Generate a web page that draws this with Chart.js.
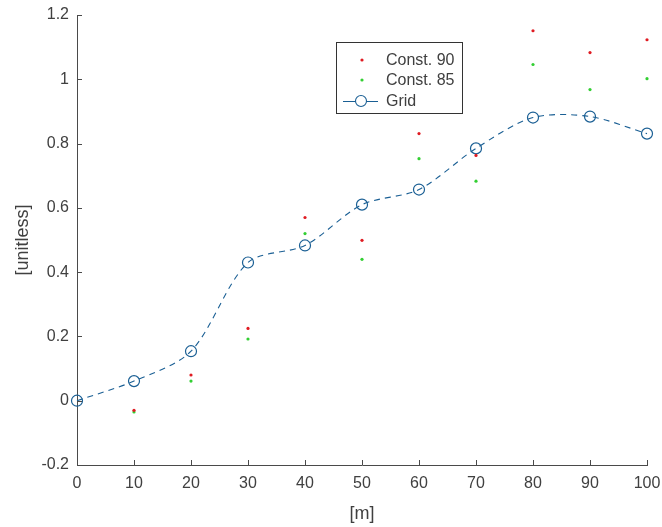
<!DOCTYPE html>
<html>
<head>
<meta charset="utf-8">
<script src="https://cdn.jsdelivr.net/npm/chart.js@4/dist/chart.umd.min.js"></script>
<style>
html,body{margin:0;padding:0;background:#fff;}
#wrap{width:662px;height:527px;position:relative;}
</style>
</head>
<body>
<div id="wrap"><canvas id="c" width="662" height="527"></canvas></div>
<script>
const xValues = [0, 10, 20, 30, 40, 50, 60, 70, 80, 90, 100];
const const90 = [null, -0.03, 0.08, 0.225, 0.57, 0.499, 0.831, 0.763, 1.151, 1.083, 1.123];
const const85 = [null, -0.035, 0.061, 0.192, 0.52, 0.44, 0.753, 0.683, 1.046, 0.968, 1.002];
const gridVals = [0, 0.061, 0.154, 0.43, 0.483, 0.61, 0.657, 0.785, 0.881, 0.884, 0.831];
const seriesLabels = ['Const. 90', 'Const. 85', 'Grid'];
const xTitle = '[m]';
const yTitle = '[unitless]';

const FONT = "'Liberation Sans', Arial, sans-serif";
const TXT = '#404040';
const AX = '#4a4a4a';
const BLUE = '#1a5f94';

const pts = arr => xValues.map((x, i) => ({x: x, y: arr[i]})).filter(p => p.y !== null);

const inwardTicks = {
  id: 'inwardTicks',
  afterDatasetsDraw(chart) {
    const ctx = chart.ctx, ca = chart.chartArea;
    const xs = chart.scales.x, ys = chart.scales.y;
    ctx.save();
    ctx.strokeStyle = AX; ctx.lineWidth = 1;
    ctx.beginPath();
    xs.ticks.forEach(t => {
      const p = Math.round(xs.getPixelForValue(t.value)) + 0.5;
      ctx.moveTo(p, ca.bottom); ctx.lineTo(p, ca.bottom - 5);
    });
    ys.ticks.forEach(t => {
      const p = Math.round(ys.getPixelForValue(t.value)) + 0.5;
      ctx.moveTo(ca.left, p); ctx.lineTo(ca.left + 5, p);
    });
    ctx.stroke();
    ctx.restore();
  }
};

const customLegend = {
  id: 'customLegend',
  afterDraw(chart) {
    const ctx = chart.ctx;
    const bx = 336.5, by = 42.5, bw = 126, bh = 71;
    ctx.save();
    ctx.fillStyle = '#fff';
    ctx.fillRect(bx, by, bw, bh);
    ctx.strokeStyle = '#333'; ctx.lineWidth = 1;
    ctx.strokeRect(bx, by, bw, bh);
    const rows = [60, 80, 101];
    const ds = chart.data.datasets;
    ctx.font = '16px ' + FONT;
    ctx.textBaseline = 'middle';
    rows.forEach((ry, i) => {
      const d = ds[i];
      if (i < 2) {
        ctx.beginPath();
        ctx.fillStyle = d.backgroundColor;
        ctx.arc(362, ry, 1.6, 0, Math.PI * 2);
        ctx.fill();
      } else {
        ctx.strokeStyle = BLUE; ctx.lineWidth = 1.1;
        ctx.beginPath(); ctx.moveTo(343, ry + 0.5); ctx.lineTo(378, ry + 0.5); ctx.stroke();
        ctx.fillStyle = '#fff';
        ctx.beginPath(); ctx.arc(361, ry, 5.5, 0, Math.PI * 2); ctx.fill(); ctx.stroke();
      }
      ctx.fillStyle = TXT;
      ctx.fillText(d.label, 386, ry + 1);
    });
    ctx.restore();
  }
};

new Chart(document.getElementById('c'), {
  type: 'scatter',
  data: {
    datasets: [
      { label: seriesLabels[0], data: pts(const90), backgroundColor: '#e01b22', borderColor: '#e01b22', pointRadius: 1.6, pointBorderWidth: 0, showLine: false, clip: false },
      { label: seriesLabels[1], data: pts(const85), backgroundColor: '#33cf33', borderColor: '#33cf33', pointRadius: 1.6, pointBorderWidth: 0, showLine: false, clip: false },
      { label: seriesLabels[2], data: pts(gridVals), showLine: true, borderColor: BLUE, borderWidth: 1.1, borderDash: [6, 5], tension: 0.3, clip: false,
        pointRadius: 5.5, pointBorderWidth: 1.2, pointBorderColor: BLUE, pointBackgroundColor: 'rgba(0,0,0,0)', fill: false }
    ]
  },
  options: {
    responsive: false,
    animation: false,
    devicePixelRatio: 1,
    layout: { padding: { left: 0, top: 15, right: 15, bottom: 0 } },
    plugins: { legend: { display: false }, tooltip: { enabled: false } },
    scales: {
      x: {
        type: 'linear', min: 0, max: 100,
        ticks: { stepSize: 10, color: TXT, font: { family: FONT, size: 16 }, padding: 9, maxRotation: 0 },
        grid: { display: false, drawTicks: false },
        border: { display: true, color: AX, width: 1 },
        title: { display: true, text: xTitle, color: TXT, font: { family: FONT, size: 18 }, padding: { top: 0, bottom: 2 } },
        afterFit(s) { s.height = 62; s.paddingLeft = 0; s.paddingRight = 0; }
      },
      y: {
        type: 'linear', min: -0.2, max: 1.2,
        ticks: { stepSize: 0.2, color: TXT, font: { family: FONT, size: 16 }, padding: 8,
          callback: v => String(Number(v.toFixed(1))) },
        grid: { display: false, drawTicks: false },
        border: { display: true, color: AX, width: 1 },
        title: { display: true, text: yTitle, color: TXT, font: { family: FONT, size: 18 }, padding: { top: 12, bottom: 0 } },
        afterFit(s) { s.width = 77; s.paddingTop = 0; s.paddingBottom = 0; }
      }
    }
  },
  plugins: [inwardTicks, customLegend]
});
</script>
</body>
</html>
